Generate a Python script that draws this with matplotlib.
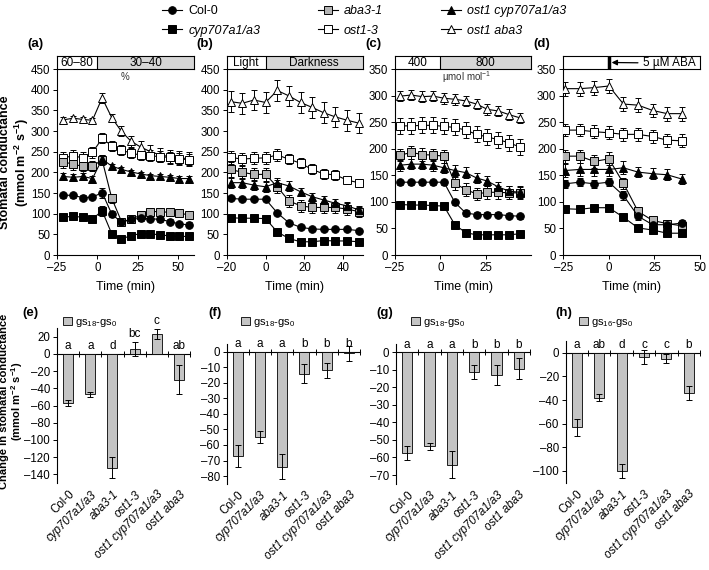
import numpy as np
import matplotlib
matplotlib.use('Agg')
import matplotlib.pyplot as plt
from matplotlib.lines import Line2D
from matplotlib.ticker import FuncFormatter

plt.rcParams['font.family'] = ['Liberation Sans', 'DejaVu Sans']
plt.rcParams['font.size'] = 9
plt.rcParams['mathtext.fontset'] = 'custom'
plt.rcParams['mathtext.rm'] = 'Liberation Sans'
plt.rcParams['mathtext.it'] = 'Liberation Sans:italic'
plt.rcParams['mathtext.bf'] = 'Liberation Sans:bold'
plt.rcParams['axes.linewidth'] = 0.8

genotypes = ['Col-0', 'cyp707a1/a3', 'aba3-1', 'ost1-3', 'ost1 cyp707a1/a3', 'ost1 aba3']

# time courses, series order = genotypes
t_a = [-21, -15, -9, -3, 3, 9, 15, 21, 27, 33, 39, 45, 51, 57]
a_mean = [
    [145, 144, 139, 140, 151, 99, 79, 86, 89, 88, 86, 81, 75, 73],
    [91, 94, 91, 87, 107, 51, 39, 47, 52, 51, 49, 46, 45, 45],
    [226, 219, 215, 215, 230, 137, 81, 86, 97, 105, 105, 103, 101, 97],
    [235, 240, 235, 248, 282, 264, 254, 246, 242, 240, 238, 236, 233, 230],
    [190, 188, 190, 185, 232, 215, 207, 201, 196, 192, 190, 188, 185, 185],
    [327, 331, 328, 326, 380, 332, 299, 275, 261, 250, 242, 238, 235, 233],
]
a_err = [
    [6, 6, 5, 5, 12, 8, 6, 6, 6, 6, 6, 6, 6, 6],
    [5, 5, 5, 5, 12, 5, 4, 4, 4, 4, 4, 4, 4, 4],
    [15, 14, 12, 12, 12, 10, 8, 8, 8, 7, 7, 7, 6, 6],
    [14, 14, 15, 14, 12, 12, 12, 12, 12, 13, 13, 14, 14, 14],
    [8, 8, 8, 6, 10, 6, 6, 5, 5, 5, 5, 5, 5, 5],
    [6, 6, 6, 6, 12, 10, 12, 14, 15, 16, 16, 17, 17, 16],
]

t_b = [-18, -12, -6, 0, 6, 12, 18, 24, 30, 36, 42, 48]
b_mean = [
    [137, 135, 135, 135, 102, 78, 67, 63, 62, 62, 62, 59],
    [90, 89, 89, 88, 56, 40, 32, 32, 35, 34, 34, 32],
    [207, 200, 195, 195, 165, 131, 119, 115, 115, 115, 111, 105],
    [236, 232, 234, 235, 242, 232, 222, 207, 196, 194, 181, 175],
    [175, 175, 169, 165, 175, 167, 153, 141, 133, 125, 119, 109],
    [371, 367, 375, 369, 398, 385, 369, 357, 344, 334, 326, 319],
]
b_err = [
    [5, 5, 5, 5, 5, 5, 5, 5, 5, 5, 5, 5],
    [4, 4, 4, 4, 4, 4, 4, 4, 4, 4, 4, 4],
    [18, 16, 16, 16, 16, 15, 14, 14, 14, 14, 14, 12],
    [15, 14, 14, 14, 14, 12, 12, 12, 12, 12, 10, 10],
    [12, 12, 12, 12, 12, 12, 10, 10, 10, 10, 10, 10],
    [25, 25, 25, 25, 25, 25, 25, 25, 25, 25, 25, 25],
]

t_c = [-22, -16, -10, -4, 2, 8, 14, 20, 26, 32, 38, 44]
c_mean = [
    [137, 137, 137, 137, 137, 99, 79, 76, 76, 76, 74, 73],
    [95, 94, 94, 93, 92, 57, 42, 38, 38, 38, 38, 40],
    [188, 193, 189, 188, 186, 135, 123, 115, 118, 118, 117, 117],
    [243, 243, 244, 244, 242, 240, 235, 227, 222, 217, 211, 203],
    [169, 171, 171, 169, 164, 159, 155, 145, 139, 128, 120, 118],
    [299, 301, 298, 299, 295, 293, 290, 284, 274, 271, 264, 258],
]
c_err = [
    [5, 5, 5, 5, 5, 5, 5, 5, 5, 5, 5, 5],
    [6, 6, 6, 6, 6, 6, 5, 5, 5, 5, 5, 5],
    [12, 12, 12, 12, 12, 12, 12, 12, 12, 12, 12, 12],
    [15, 15, 15, 15, 15, 15, 15, 15, 15, 15, 15, 15],
    [10, 10, 10, 10, 10, 10, 10, 10, 10, 10, 10, 10],
    [10, 10, 10, 10, 10, 10, 10, 10, 10, 10, 10, 10],
]

t_d = [-24, -16, -8, 0, 8, 16, 24, 32, 40]
d_mean = [
    [134, 137, 134, 137, 112, 73, 57, 57, 60],
    [87, 86, 89, 89, 71, 51, 47, 41, 41],
    [186, 186, 176, 181, 135, 82, 65, 59, 55],
    [235, 235, 232, 230, 227, 227, 223, 216, 215],
    [159, 161, 161, 161, 164, 156, 153, 151, 143],
    [313, 313, 315, 318, 284, 282, 272, 266, 266],
]
d_err = [
    [8, 8, 8, 8, 8, 8, 6, 6, 6],
    [5, 5, 5, 5, 5, 5, 5, 5, 5],
    [12, 12, 12, 12, 10, 8, 6, 6, 6],
    [12, 12, 12, 12, 12, 12, 12, 12, 12],
    [12, 12, 12, 12, 12, 10, 10, 10, 10],
    [13, 13, 13, 13, 13, 13, 13, 13, 13],
]

# differences (bar panels)
e_val = [-57, -47, -132, 6, 23, -30]
e_err = [3, 3, 12, 8, 6, 17]
e_let = ['a', 'a', 'd', 'bc', 'c', 'ab']
f_val = [-67, -55, -74, -14, -12, -1]
f_err = [7, 4, 8, 6, 5, 5]
f_let = ['a', 'a', 'a', 'b', 'b', 'b']
g_val = [-57.5, -53.5, -64, -11, -13, -9.5]
g_err = [4, 2, 7.5, 4, 5.5, 6]
g_let = ['a', 'a', 'a', 'b', 'b', 'b']
h_val = [-63, -38, -100, -3.5, -5, -34]
h_err = [7, 3, 6, 6, 4, 6]
h_let = ['a', 'ab', 'd', 'c', 'c', 'b']

W, H = 709, 570
fig = plt.figure(figsize=(W / 100, H / 100), dpi=100)

dash_fmt = FuncFormatter(lambda v, p: f'{v:g}'.replace('-', '–'))
TICK_FS = 8.3


def box(l, t, r, b):
    return [l / W, 1 - b / H, (r - l) / W, (b - t) / H]


markers = ['o', 's', 's', 's', '^', '^']
mfcs = ['k', 'k', '#b4b4b4', 'w', 'k', 'w']
msizes = [5.5, 5.5, 6, 6, 5.5, 5.5]
switch = 0

top_specs = [
    ('(a)', box(57, 69, 194, 255), (-25, 60), [-25, 0, 25, 50], 450, t_a, a_mean, a_err, ('60–80', '30–40')),
    ('(b)', box(226.7, 69, 362.7, 255), (-20, 50), [-20, 0, 20, 40], 450, t_b, b_mean, b_err, ('Light', 'Darkness')),
    ('(c)', box(395, 69, 531, 255), (-25, 50), [-25, 0, 25], 350, t_c, c_mean, c_err, ('400', '800')),
    ('(d)', box(563.3, 69, 700, 255), (-25, 50), [-25, 0, 25, 50], 350, t_d, d_mean, d_err, None),
]

for lab, rect, xl, xt, ymax, t, means, errs, hdr in top_specs:
    ax = fig.add_axes(rect)
    for k in [5, 3, 2, 4, 0, 1]:
        ax.errorbar(t, means[k], yerr=errs[k], color='k', lw=0.8, marker=markers[k],
                    mfc=mfcs[k], mec='k', mew=0.7, ms=msizes[k],
                    elinewidth=0.7, capsize=2, capthick=0.7, zorder=3)
    ax.set_xlim(xl)
    ax.set_ylim(0, ymax)
    ax.set_xticks(xt)
    ax.set_yticks(np.arange(0, ymax + 1, 50))
    ax.xaxis.set_major_formatter(dash_fmt)
    ax.spines[['top', 'right']].set_visible(False)
    ax.tick_params(direction='out', length=3, width=0.7, labelsize=TICK_FS, pad=2)
    ax.set_xlabel('Time (min)', fontsize=9, labelpad=5)

    # condition header strip
    hx = fig.add_axes([rect[0], rect[1] + rect[3], rect[2], 13 / H])
    hx.set_xlim(xl)
    hx.set_ylim(0, 1)
    hx.set_xticks([])
    hx.set_yticks([])
    for s in hx.spines.values():
        s.set_linewidth(0.8)
    if hdr is not None:
        hx.axvspan(switch, xl[1], color='#d6d6d6', lw=0)
        hx.axvline(switch, color='k', lw=0.8)
        hx.text((xl[0] + switch) / 2, 0.45, hdr[0], ha='center', va='center', fontsize=8.5)
        hx.text((switch + xl[1]) / 2, 0.45, hdr[1], ha='center', va='center', fontsize=8.5)
    else:
        hx.axvline(switch, color='k', lw=2.5)
        hx.annotate('5 µM ABA', xy=(switch + 1.5, 0.5), xytext=(19, 0.45),
                    ha='left', va='center', fontsize=8.5,
                    arrowprops=dict(arrowstyle='-|>', color='k', lw=0.9,
                                    mutation_scale=8, shrinkA=2, shrinkB=0))
    fig.text(rect[0] - 30 / W, 1 - 44 / H, lab, fontsize=9.5, fontweight='bold',
             ha='left', va='center')
    if lab == '(a)':
        ax.text(17, 0.955, '%', transform=ax.get_xaxis_transform(), ha='center',
                va='center', fontsize=7, color='#333333')
    if lab == '(c)':
        ax.text(1, 0.955, 'µmol mol$^{-1}$', transform=ax.get_xaxis_transform(),
                ha='left', va='center', fontsize=7, color='#333333')

fig.text(15 / W, 1 - 162 / H, 'Stomatal conductance\n(mmol m$^{\\mathbf{-2}}$ s$^{\\mathbf{-1}}$)',
         rotation=90, ha='center', va='center', fontsize=9, fontweight='bold',
         linespacing=1.1)
fig.text(12 / W, 1 - 401 / H, 'Change in stomatal conductance\n(mmol m$^{\\mathbf{-2}}$ s$^{\\mathbf{-1}}$)',
         rotation=90, ha='center', va='center', fontsize=8, fontweight='bold',
         linespacing=1.05)

# legend
handles = [Line2D([], [], color='k', lw=0.8, marker=markers[k], mfc=mfcs[k], mec='k',
                  mew=0.7, ms=msizes[k]) for k in range(6)]
leg = fig.legend(handles, genotypes, ncol=3, loc='center', bbox_to_anchor=(364 / W, 1 - 21 / H),
                 frameon=False, fontsize=9, handlelength=1.6, handletextpad=0.5,
                 columnspacing=4.6, labelspacing=0.6)
for txt in leg.get_texts()[1:]:
    txt.set_fontstyle('italic')

bot_specs = [
    ('(e)', box(57, 328, 190, 483), (-150, 30), np.arange(-140, 21, 20), e_val, e_err, e_let, 'gs$_\\mathregular{18}$-gs$_\\mathregular{0}$', 90, 35),
    ('(f)', box(226.7, 344, 360, 483.8), (-85, 5), np.arange(-80, 1, 10), f_val, f_err, f_let, 'gs$_\\mathregular{18}$-gs$_\\mathregular{0}$', 268, 18),
    ('(g)', box(396, 343.5, 530, 483.8), (-75, 5), np.arange(-70, 1, 10), g_val, g_err, g_let, 'gs$_\\mathregular{18}$-gs$_\\mathregular{0}$', 438, 20),
    ('(h)', box(565.7, 340.9, 700, 482.8), (-110, 10), np.arange(-100, 1, 20), h_val, h_err, h_let, 'gs$_\\mathregular{16}$-gs$_\\mathregular{0}$', 606, 10),
]

for lab, rect, yl, yt, vals, errs, lets, legtxt, legx, labdx in bot_specs:
    ax = fig.add_axes(rect)
    x = np.arange(len(genotypes))
    ax.bar(x, vals, 0.45, yerr=errs, color='#c4c4c4', edgecolor='k', lw=0.6,
           error_kw=dict(elinewidth=0.7, capsize=2.5, capthick=0.7), label=legtxt, zorder=2)
    ax.set_xlim(-0.5, len(genotypes) - 0.5)
    ax.set_ylim(yl)
    ax.set_yticks(yt)
    ax.yaxis.set_major_formatter(dash_fmt)
    ax.spines[['top', 'right', 'bottom']].set_visible(False)
    ax.tick_params(axis='y', direction='out', length=3, width=0.7, labelsize=TICK_FS, pad=2)
    ax.set_xticks(x)
    ax.set_xticklabels(genotypes, rotation=45, ha='right', rotation_mode='anchor', fontsize=8.3)
    ax.tick_params(axis='x', length=0, pad=4)
    for tl in ax.get_xticklabels()[1:]:
        tl.set_fontstyle('italic')
    zero = (0 - yl[0]) / (yl[1] - yl[0])
    sec = ax.secondary_xaxis(zero)
    sec.set_xticks(np.arange(-0.5, len(genotypes), 1))
    sec.set_xticklabels([])
    sec.tick_params(direction='inout', length=4, width=0.7)
    for s in sec.spines.values():
        s.set_linewidth(0.8)
    span = yl[1] - yl[0]
    for i in range(len(vals)):
        ytop = max(0, vals[i] + errs[i]) if vals[i] > 0 else 0
        ax.text(x[i], ytop + 0.012 * span, lets[i], ha='center', va='bottom', fontsize=8.5,
                clip_on=False)
    ax.legend(loc='center', bbox_to_anchor=(legx / W, 1 - 323 / H), bbox_transform=fig.transFigure,
              frameon=False, fontsize=8, handlelength=0.8, handleheight=0.8, handletextpad=0.3,
              borderpad=0)
    fig.text(rect[0] - labdx / W, 1 - 313 / H, lab, fontsize=9.5, fontweight='bold',
             ha='left', va='center')

fig.savefig('out.png', dpi=100)
